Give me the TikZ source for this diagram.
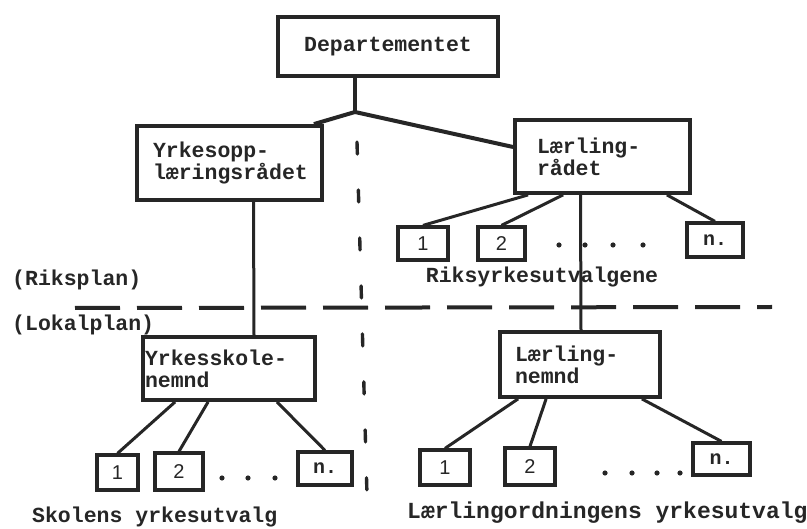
\documentclass[tikz,border=0pt]{standalone}
\usepackage{fontspec}
\setmainfont{Liberation Mono}
\newfontfamily\numfont{Liberation Sans}
\colorlet{ink}{black!85}
\tikzset{
  x=1pt, y=-1pt,
  bigbox/.style={draw=ink, line width=3.8pt, rectangle, inner xsep=0pt, inner ysep=0pt,
    align=left, font=\fontsize{21.5}{22}\selectfont\bfseries, text=ink},
  smallbox/.style={draw=ink, line width=3.2pt, rectangle, inner sep=0pt, text=ink},
  numtxt/.style={font=\numfont\fontsize{20}{20}\selectfont},
  ntxt/.style={font=\fontsize{20}{20}\selectfont\bfseries},
  conn/.style={draw=ink, line width=3pt},
  lbl/.style={font=\fontsize{21.5}{22}\selectfont\bfseries, text=ink, inner sep=0pt},
  dotmark/.style={fill=ink, draw=none},
}
\begin{document}
\begin{tikzpicture}
\useasboundingbox (0,0) rectangle (807,529);

% main boxes
\node[bigbox, minimum width=220, minimum height=59, align=center] (dep) at (388,46.5) {Departementet};
\node[bigbox, minimum width=185, minimum height=74, text width=153] (yo) at (229.5,163) {Yrkesopp-\\læringsrådet};
\node[bigbox, minimum width=175, minimum height=73, text width=131] (lr) at (602.5,156.5) {Lærling-\\rådet};
\node[bigbox, minimum width=172, minimum height=63, text width=168] (ys) at (229,368.5) {Yrkesskole-\\nemnd};
\node[bigbox, minimum width=160, minimum height=65, text width=130] (lnm) at (580,364.5) {Lærling-\\nemnd};

% small boxes
\node[smallbox, numtxt, minimum width=50, minimum height=33] (r1) at (423,243.5) {1};
\node[smallbox, numtxt, minimum width=47, minimum height=33] (r2) at (501.5,243.5) {2};
\node[smallbox, ntxt, minimum width=56, minimum height=34] (rn) at (715,240) {n.};

\node[smallbox, numtxt, minimum width=41, minimum height=35] (s1) at (117.5,472.5) {1};
\node[smallbox, numtxt, minimum width=48, minimum height=37] (s2) at (179,471.5) {2};
\node[smallbox, ntxt, minimum width=54, minimum height=33] (sn) at (325,468.5) {n.};

\node[smallbox, numtxt, minimum width=50, minimum height=35] (l1) at (445,467.5) {1};
\node[smallbox, numtxt, minimum width=50, minimum height=37] (l2) at (530,466.5) {2};
\node[smallbox, ntxt, minimum width=57, minimum height=32] (ln) at (721.5,459) {n.};

% connectors
\coordinate (j) at (355,112);
\draw[conn, line width=4pt] ([xshift=-33pt]dep.south) -- (j);
\draw[conn, line width=4pt] (j) -- ([xshift=-10pt]yo.north east);
\draw[conn, line width=4pt] (j) -- ([yshift=9.5pt]lr.west);
\draw[conn] ([xshift=24pt]yo.south) -- ([xshift=25pt]ys.north);
\draw[conn] ([xshift=-22pt]lr.south) -- ([xshift=1pt]lnm.north);

\draw[conn] ([xshift=15pt]lr.south west) -- (r1.north);
\draw[conn] ([xshift=50pt]lr.south west) -- (r2.north);
\draw[conn] ([xshift=-25pt]lr.south east) -- (rn.north);

\draw[conn] ([xshift=34pt]ys.south west) -- (s1.north);
\draw[conn] ([xshift=67pt]ys.south west) -- (s2.north);
\draw[conn] ([xshift=-40pt]ys.south east) -- (sn.north);

\draw[conn] ([xshift=20pt]lnm.south west) -- (l1.north);
\draw[conn] ([xshift=48pt]lnm.south west) -- (l2.north);
\draw[conn] ([xshift=-20pt]lnm.south east) -- (ln.north);

% dots
\foreach \x in {559,585,613,643} \fill[dotmark] (\x,245) circle (2.6);
\foreach \x in {222,248,275} \fill[dotmark] (\x,478) circle (2.6);
\foreach \x in {605,632,657,680} \fill[dotmark] (\x,473) circle (2.6);

% dividing lines
\coordinate (hl) at (75,308);
\coordinate (hr) at (772,307);
\draw[draw=ink, line width=4pt, dash pattern=on 45pt off 17pt] (hl) -- (hr);
\coordinate (vt) at (357,142);
\coordinate (vb) at (367,495);
\draw[draw=ink, line width=3.4pt, line cap=round, dash pattern=on 12pt off 36pt] (vt) -- (vb);

% labels
\node[lbl, anchor=west] (riks) at (12,280) {(Riksplan)};
\node[lbl, anchor=west] (lok) at (12,325) {(Lokalplan)};
\node[lbl] (rikut) at (542,277) {Riksyrkesutvalgene};
\node[lbl, anchor=west] (skut) at (32,517) {Skolens yrkesutvalg};
\node[lbl, anchor=west, font=\fontsize{23}{23}\selectfont\bfseries] (laut) at (407,513) {Lærlingordningens yrkesutvalg};
\end{tikzpicture}
\end{document}
